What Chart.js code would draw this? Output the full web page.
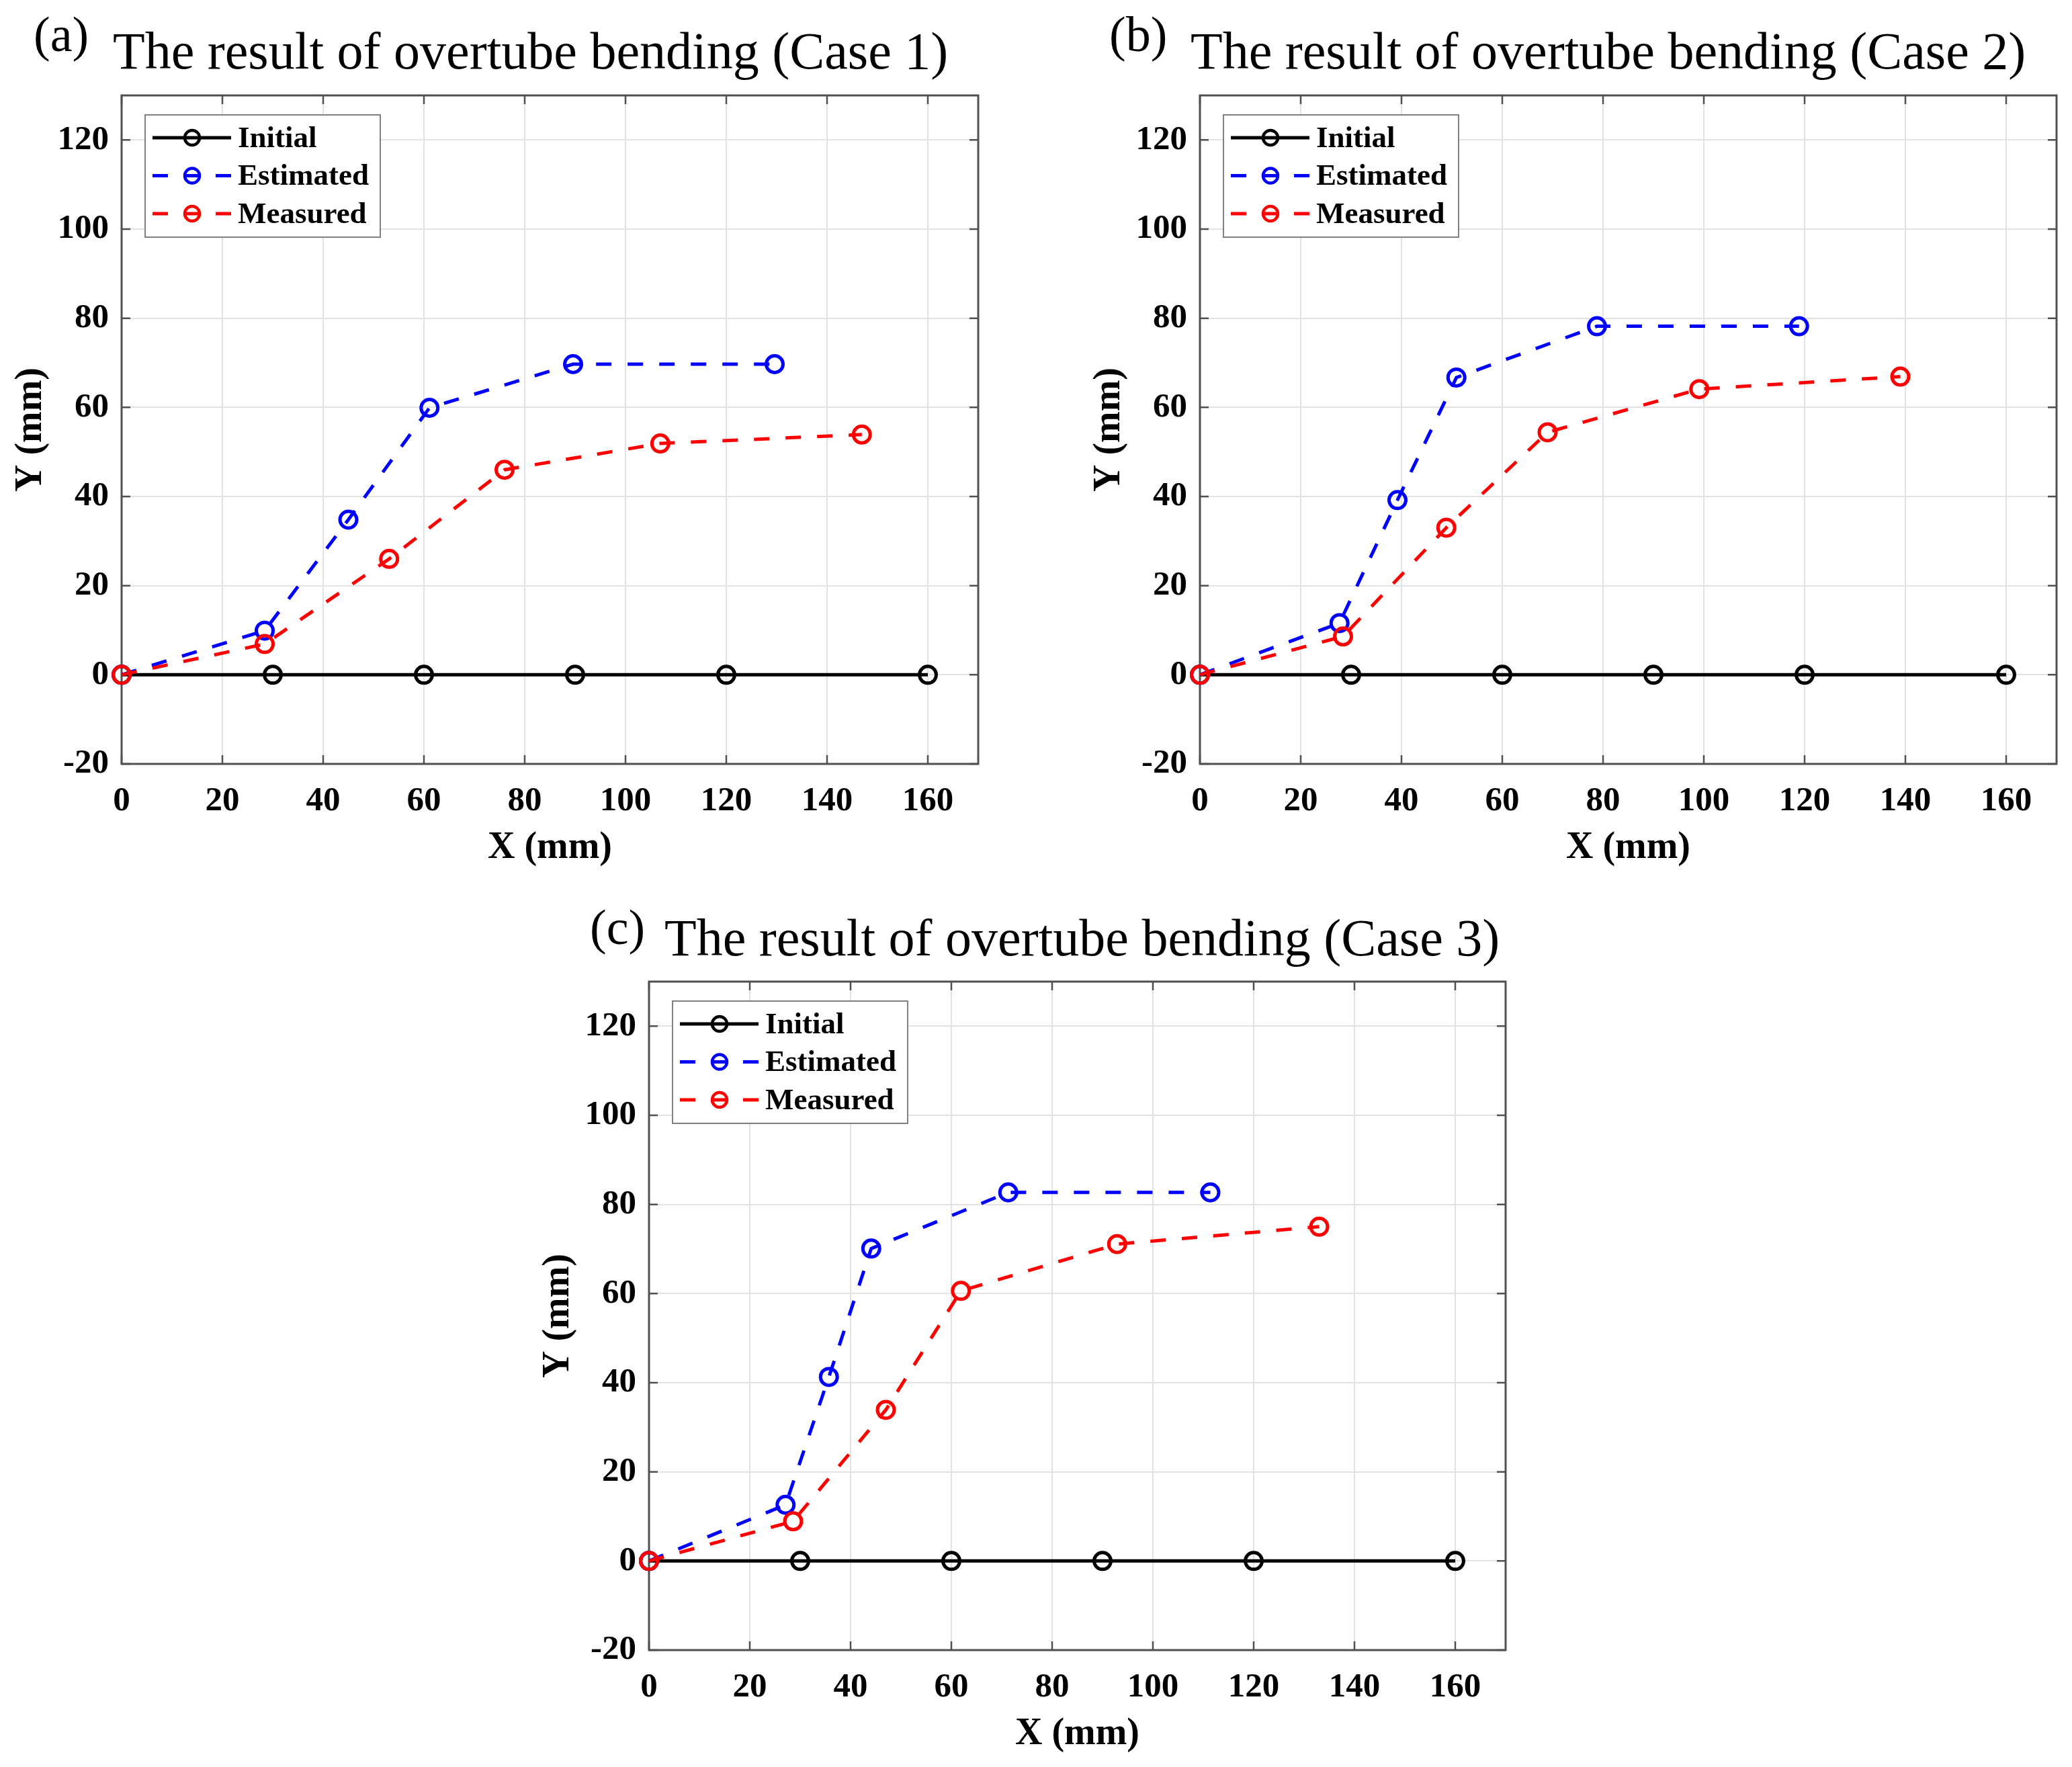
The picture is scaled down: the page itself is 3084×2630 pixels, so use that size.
<!DOCTYPE html>
<html>
<head>
<meta charset="utf-8">
<script src="https://cdn.jsdelivr.net/npm/chart.js@4.4.0/dist/chart.umd.min.js"></script>
<style>
body{margin:0;background:#fff;width:3084px;height:2630px;position:relative;overflow:hidden;}
.panel{position:absolute;width:1479px;height:1300px;}
.panel canvas{position:absolute;left:0;top:0;}
.tag,.title{position:absolute;font-family:"Liberation Serif","Times New Roman",serif;color:#000;white-space:nowrap;line-height:1;}
.tag{font-size:74px;}
.title{font-size:78px;}
</style>
</head>
<body>

<div class="panel" style="left:0px;top:0px">
  <canvas id="c1" width="1479" height="1300"></canvas>
  <div class="tag" style="left:50px;top:14px">(a)</div>
  <div class="title" style="left:168px;top:37px">The result of overtube bending (Case 1)</div>
</div>

<div class="panel" style="left:1605px;top:0px">
  <canvas id="c2" width="1479" height="1300"></canvas>
  <div class="tag" style="left:46px;top:14px">(b)</div>
  <div class="title" style="left:167px;top:37px">The result of overtube bending (Case 2)</div>
</div>

<div class="panel" style="left:785px;top:1319px">
  <canvas id="c3" width="1479" height="1300"></canvas>
  <div class="tag" style="left:93px;top:24px">(c)</div>
  <div class="title" style="left:204px;top:38px">The result of overtube bending (Case 3)</div>
</div>

<script>
// tick labels
const xTicks = [0, 20, 40, 60, 80, 100, 120, 140, 160];
const yTicks = [-20, 0, 20, 40, 60, 80, 100, 120];

// initial (straight) overtube, same in every case
const initialX = [0, 30, 60, 90, 120, 160];
const initialY = [0, 0, 0, 0, 0, 0];

// case 1
const case1EstX = [0, 28.4, 45.0, 61.1, 89.6, 129.6];
const case1EstY = [0, 9.9, 34.8, 59.9, 69.7, 69.7];
const case1MeasX = [0, 28.4, 53.1, 76.0, 106.9, 146.9];
const case1MeasY = [0, 6.9, 26.0, 46.0, 51.9, 53.9];

// case 2
const case2EstX = [0, 27.7, 39.2, 50.9, 78.8, 118.9];
const case2EstY = [0, 11.6, 39.2, 66.7, 78.2, 78.2];
const case2MeasX = [0, 28.4, 48.9, 69.0, 99.1, 139.0];
const case2MeasY = [0, 8.6, 33.0, 54.4, 64.1, 66.9];

// case 3
const case3EstX = [0, 27.1, 35.7, 44.1, 71.3, 111.4];
const case3EstY = [0, 12.6, 41.3, 70.1, 82.7, 82.7];
const case3MeasX = [0, 28.6, 47.0, 61.9, 92.9, 133.0];
const case3MeasY = [0, 8.9, 33.9, 60.6, 71.1, 75.0];

const serif = '"Liberation Serif", "Times New Roman", serif';

function pts(xs, ys){
  return xs.map((v, i) => ({x: v, y: ys[i]}));
}

// matlab style box with inward ticks, drawn under the data
const boxPlugin = {
  id: 'box',
  beforeDatasetsDraw(chart){
    const {ctx, chartArea: a, scales: {x, y}} = chart;
    ctx.save();
    ctx.strokeStyle = '#505050';
    ctx.lineWidth = 3;
    ctx.strokeRect(a.left, a.top, a.right - a.left, a.bottom - a.top);
    ctx.lineWidth = 2.5;
    ctx.beginPath();
    x.ticks.forEach(t => {
      const px = x.getPixelForValue(t.value);
      ctx.moveTo(px, a.bottom); ctx.lineTo(px, a.bottom - 13);
      ctx.moveTo(px, a.top); ctx.lineTo(px, a.top + 13);
    });
    y.ticks.forEach(t => {
      const py = y.getPixelForValue(t.value);
      ctx.moveTo(a.left, py); ctx.lineTo(a.left + 13, py);
      ctx.moveTo(a.right, py); ctx.lineTo(a.right - 13, py);
    });
    ctx.stroke();
    ctx.restore();
  }
};

const legendPlugin = {
  id: 'mlegend',
  afterDraw(chart){
    const {ctx, chartArea: a} = chart;
    const bx = a.left + 35, by = a.top + 29, bw = 350, bh = 182;
    ctx.save();
    ctx.fillStyle = '#fff';
    ctx.fillRect(bx, by, bw, bh);
    ctx.strokeStyle = '#808080';
    ctx.lineWidth = 2;
    ctx.strokeRect(bx, by, bw, bh);
    chart.data.datasets.forEach((ds, i) => {
      const cy = by + 34 + i * 56.5;
      ctx.strokeStyle = ds.borderColor;
      ctx.lineWidth = ds.borderWidth;
      ctx.setLineDash(ds.borderDash || []);
      ctx.beginPath();
      ctx.moveTo(bx + 11, cy);
      ctx.lineTo(bx + 128, cy);
      ctx.stroke();
      ctx.setLineDash([]);
      ctx.lineWidth = 4.5;
      ctx.beginPath();
      ctx.arc(bx + 70, cy, 11, 0, Math.PI * 2);
      ctx.stroke();
      ctx.fillStyle = '#000';
      ctx.font = 'bold 45px ' + serif;
      ctx.textBaseline = 'middle';
      ctx.fillText(ds.label, bx + 138, cy + 2);
    });
    ctx.restore();
  }
};

function lineSet(label, xs, ys, color, dash, order){
  return {
    label: label,
    data: pts(xs, ys),
    showLine: true,
    borderColor: color,
    borderWidth: 5,
    borderDash: dash,
    pointRadius: 12.5,
    pointBorderWidth: 5,
    pointBorderColor: color,
    pointBackgroundColor: 'rgba(0,0,0,0)',
    clip: false,
    order: order
  };
}

function makeChart(id, estX, estY, measX, measY){
  new Chart(document.getElementById(id), {
    type: 'scatter',
    data: {
      datasets: [
        lineSet('Initial', initialX, initialY, '#000000', [], 3),
        lineSet('Estimated', estX, estY, '#0000ff', [23, 24], 2),
        lineSet('Measured', measX, measY, '#ff0000', [23, 24], 1)
      ]
    },
    options: {
      responsive: false,
      animation: false,
      layout: {padding: {top: 142, right: 23, left: 0, bottom: 0}},
      plugins: {legend: {display: false}, tooltip: {enabled: false}},
      scales: {
        x: {
          type: 'linear', min: 0, max: 170,
          afterBuildTicks: s => { s.ticks = xTicks.map(v => ({value: v})); },
          afterFit: s => { s.height = 163; },
          grid: {color: '#e2e2e2', lineWidth: 2, drawTicks: false},
          border: {display: false},
          ticks: {padding: 25, color: '#000', maxRotation: 0, autoSkip: false,
                  font: {family: serif, size: 51, weight: 'bold'}},
          title: {display: true, text: 'X (mm)', color: '#000',
                  font: {family: serif, size: 56, weight: 'bold'},
                  padding: {top: 0, bottom: 4}}
        },
        y: {
          type: 'linear', min: -20, max: 130,
          afterBuildTicks: s => { s.ticks = yTicks.map(v => ({value: v})); },
          afterFit: s => { s.width = 181; },
          grid: {color: '#e2e2e2', lineWidth: 2, drawTicks: false},
          border: {display: false},
          ticks: {padding: 19, color: '#000', autoSkip: false,
                  font: {family: serif, size: 51, weight: 'bold'}},
          title: {display: true, text: 'Y (mm)', color: '#000',
                  font: {family: serif, size: 56, weight: 'bold'},
                  padding: {top: 13, bottom: 0}}
        }
      }
    },
    plugins: [boxPlugin, legendPlugin]
  });
}

makeChart('c1', case1EstX, case1EstY, case1MeasX, case1MeasY);
makeChart('c2', case2EstX, case2EstY, case2MeasX, case2MeasY);
makeChart('c3', case3EstX, case3EstY, case3MeasX, case3MeasY);
</script>
</body>
</html>
